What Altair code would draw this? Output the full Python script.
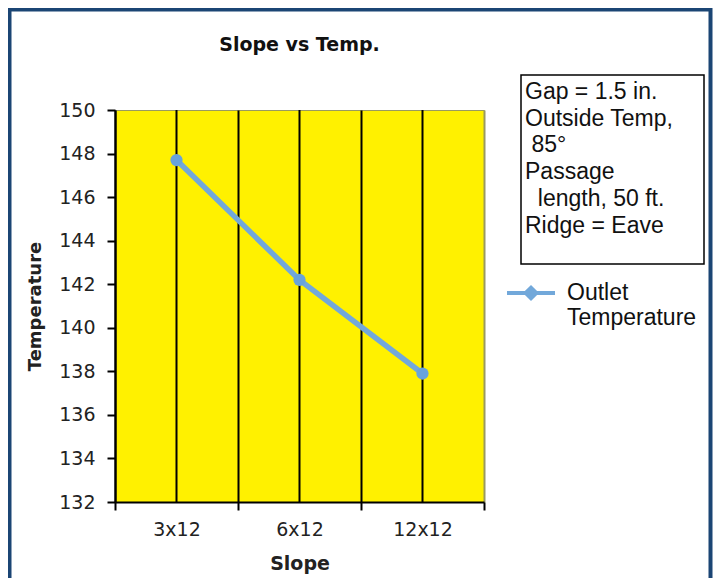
import altair as alt
import pandas as pd

# ---- data ----
slopes = ["3x12", "6x12", "12x12"]
temps = [147.7, 142.2, 137.9]
series_name = "Outlet Temperature"
y_ticks = [132, 134, 136, 138, 140, 142, 144, 146, 148, 150]
notes = ["Gap = 1.5 in.", "Outside Temp,", "\u200b\u2009\u200a85°", "Passage",
         "\u200b\u00a0\u00a0length, 50 ft.", "Ridge = Eave"]

df = pd.DataFrame({"Slope": slopes, "Temperature": temps, "series": [series_name] * 3})

LINE = "#72A8DA"
YELLOW = "#FFF100"
FRAME = "#1B4574"

W, H = 369, 392
PAD = {"left": 107, "top": 102, "right": 229, "bottom": 76}

x_enc = alt.X("Slope:N", sort=slopes,
              scale=alt.Scale(paddingInner=0, paddingOuter=0),
              axis=alt.Axis(title="Slope", labelAngle=0, tickBand="extent",
                            grid=True,
                            gridColor=alt.condition("datum.value == '12x12'", alt.value("#9a9a60"), alt.value("black")),
                            gridWidth=2, tickSize=8, tickWidth=2, tickColor="black",
                            domainColor="black", domainWidth=2,
                            labelFont="DejaVu Sans", labelFontSize=19, labelColor="#222",
                            labelPadding=10,
                            titleFont="DejaVu Sans", titleFontWeight="bold", titleFontSize=19,
                            titleColor="#222", titleX=W / 2, titleY=61, titleBaseline="middle"))

y_enc = alt.Y("Temperature:Q",
              scale=alt.Scale(domain=[132, 150], nice=False, zero=False),
              axis=alt.Axis(title="Temperature", values=y_ticks, grid=False,
                            tickSize=8, tickWidth=2, tickColor="black",
                            domainColor="black", domainWidth=2,
                            labelFont="DejaVu Sans", labelFontSize=19, labelColor="#222",
                            labelPadding=12,
                            titleFont="DejaVu Sans", titleFontWeight="bold", titleFontSize=18,
                            titleColor="#222", titleX=-80, titleY=H / 2, titleBaseline="middle"))

base = alt.Chart(df)

frame = alt.Chart(alt.Data(values=[{}])).mark_rect(
    fill=None, stroke=FRAME, strokeWidth=4
).encode(x=alt.value(-105.5), x2=alt.value(595.5), y=alt.value(-100.5), y2=alt.value(600))

center_rules = base.mark_rule(color="black", strokeWidth=2).encode(
    x=x_enc, y=alt.value(0), y2=alt.value(H))

line = base.mark_line(strokeWidth=5.5).encode(
    x=x_enc, y=y_enc,
    color=alt.Color("series:N", scale=alt.Scale(range=[LINE]),
                    legend=alt.Legend(title=None, orient="none", legendX=390, legendY=157,
                                      padding=0,
                                      symbolType="M-1,0L1,0M-0.22,0L0,-0.22L0.22,0L0,0.22Z",
                                      symbolSize=2304, symbolStrokeWidth=4,
                                      symbolFillColor=LINE, symbolStrokeColor=LINE,
                                      labelFont="Liberation Sans", labelFontSize=23,
                                      labelColor="#111", labelOffset=10, labelLimit=300,
                                      labelExpr="['Outlet', 'Temperature']")))

points = base.mark_circle(size=150, opacity=1, color="#68A3DB").encode(x=x_enc, y=y_enc)

note_box = alt.Chart(alt.Data(values=[{}])).mark_rect(
    fill="white", stroke="black", strokeWidth=1.5
).encode(x=alt.value(406), x2=alt.value(589), y=alt.value(-35), y2=alt.value(154))

note_text = alt.Chart(alt.Data(values=[{}])).mark_text(
    align="left", baseline="top", font="Liberation Sans", fontSize=23,
    lineHeight=26.7, color="#111", text=notes
).encode(x=alt.value(410), y=alt.value(-29))

chart = alt.layer(frame, center_rules, line, points, note_box, note_text).properties(
    width=W, height=H,
    autosize=alt.AutoSizeParams(type="none"),
    padding=PAD,
    title=alt.TitleParams("Slope vs Temp.", font="DejaVu Sans", fontSize=19,
                          fontWeight="bold", color="#111", anchor="middle",
                          frame="group", baseline="alphabetic", offset=0, dy=62),
).configure(background="white").configure_view(
    fill=YELLOW, stroke="#9a9a60", strokeWidth=1
)

chart.save("out.html", embed_options={"renderer": "svg", "actions": False})
